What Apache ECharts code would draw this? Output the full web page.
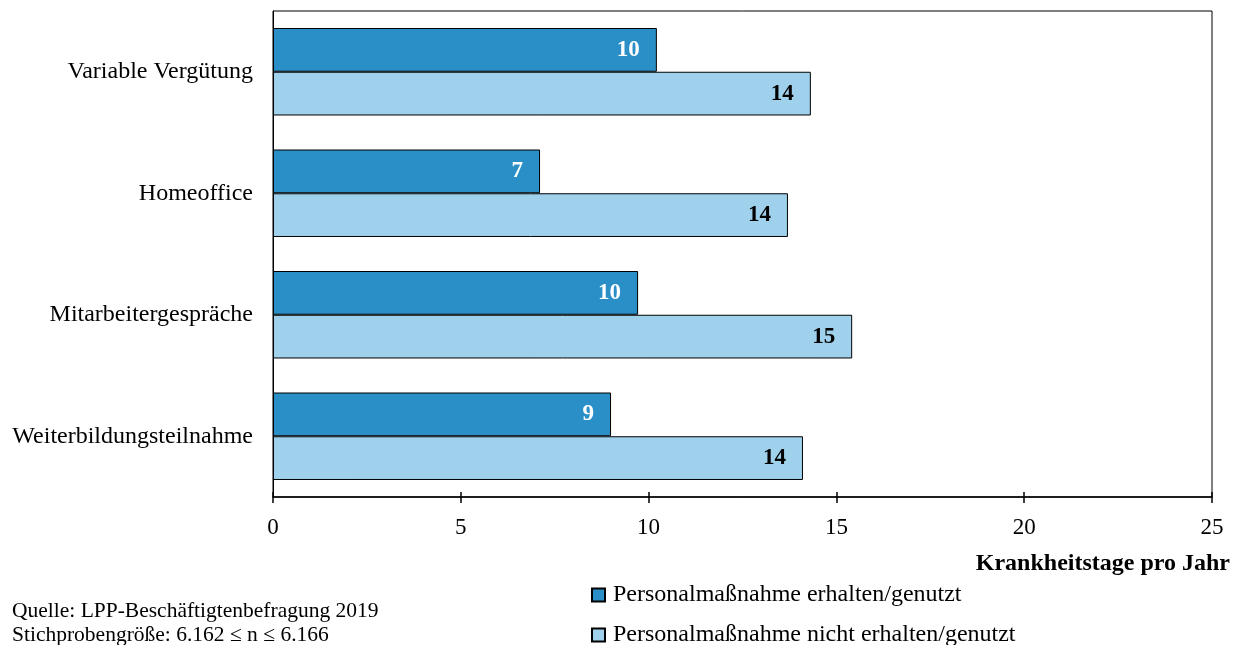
<!DOCTYPE html>
<html><head><meta charset="utf-8">
<script src="https://cdn.jsdelivr.net/npm/echarts@6/dist/echarts.min.js"></script>
<style>html,body{margin:0;padding:0;background:#fff}#c{width:1236px;height:645px}</style>
</head><body><div id="c"></div>
<script>
const categories = ['Variable Vergütung', 'Homeoffice', 'Mitarbeitergespräche', 'Weiterbildungsteilnahme'];
const seriesNames = ['Personalmaßnahme erhalten/genutzt', 'Personalmaßnahme nicht erhalten/genutzt'];
const received = [10.22, 7.11, 9.72, 9.0];
const notReceived = [14.32, 13.71, 15.42, 14.11];
const xTicks = [0, 5, 10, 15, 20, 25];
const axisTitle = 'Krankheitstage pro Jahr';
const sourceLines = ['Quelle: LPP-Beschäftigtenbefragung 2019', 'Stichprobengröße: 6.162 ≤ n ≤ 6.166'];

const font = '"Liberation Serif", "Times New Roman", serif';
const chart = echarts.init(document.getElementById('c'), null, {renderer: 'canvas'});
const legendText = {color: '#000', fontSize: 24, fontFamily: font, padding: [0, 0, 0, 3]};
chart.setOption({
  animation: false,
  textStyle: {fontFamily: font},
  grid: {left: 273, right: 24, top: 11, bottom: 148, show: true, borderColor: '#000', borderWidth: 1},
  xAxis: [{
    type: 'value', min: xTicks[0], max: xTicks[xTicks.length - 1], interval: 5, position: 'bottom',
    splitLine: {show: false},
    axisLine: {show: true, lineStyle: {color: '#000', width: 1.5}},
    axisTick: {show: true, length: 6, lineStyle: {color: '#000', width: 1.5}},
    axisLabel: {color: '#000', fontSize: 23, fontFamily: font, margin: 19}
  }, {
    type: 'value', min: xTicks[0], max: xTicks[xTicks.length - 1], interval: 5, position: 'bottom',
    splitLine: {show: false},
    axisLine: {show: false},
    axisTick: {show: true, inside: true, length: 5, lineStyle: {color: '#000', width: 1.5}},
    axisLabel: {show: false}
  }],
  yAxis: {
    type: 'category', data: categories, inverse: true,
    axisLine: {show: true, lineStyle: {color: '#000', width: 1}},
    axisTick: {show: false},
    axisLabel: {color: '#000', fontSize: 24, fontFamily: font, margin: 20}
  },
  legend: [
    {left: 586, top: 578, itemWidth: 13, itemHeight: 13, icon: 'rect', textStyle: legendText, data: [seriesNames[0]]},
    {left: 586, top: 618, itemWidth: 13, itemHeight: 13, icon: 'rect', textStyle: legendText, data: [seriesNames[1]]}
  ],
  graphic: [
    {type: 'text', right: 6, top: 552, style: {text: axisTitle, font: 'bold 24px ' + font, fill: '#000'}},
    {type: 'text', left: 12, top: 600, style: {text: sourceLines[0], font: '21.5px ' + font, fill: '#000'}},
    {type: 'text', left: 12, top: 624, style: {text: sourceLines[1], font: '21.5px ' + font, fill: '#000'}}
  ],
  series: [
    {
      name: seriesNames[0], type: 'bar', data: received, barGap: '0%', barCategoryGap: '28%',
      itemStyle: {color: '#2A8FC7', borderColor: '#000', borderWidth: 1},
      label: {show: true, position: 'insideRight', distance: 17, color: '#fff', fontWeight: 'bold', fontSize: 23, fontFamily: font,
        formatter: p => Math.round(p.value)}
    },
    {
      name: seriesNames[1], type: 'bar', data: notReceived, barGap: '0%', barCategoryGap: '28%',
      itemStyle: {color: '#9FD1ED', borderColor: '#000', borderWidth: 1},
      label: {show: true, position: 'insideRight', distance: 17, color: '#000', fontWeight: 'bold', fontSize: 23, fontFamily: font,
        formatter: p => Math.round(p.value)}
    }
  ]
});
</script></body></html>
